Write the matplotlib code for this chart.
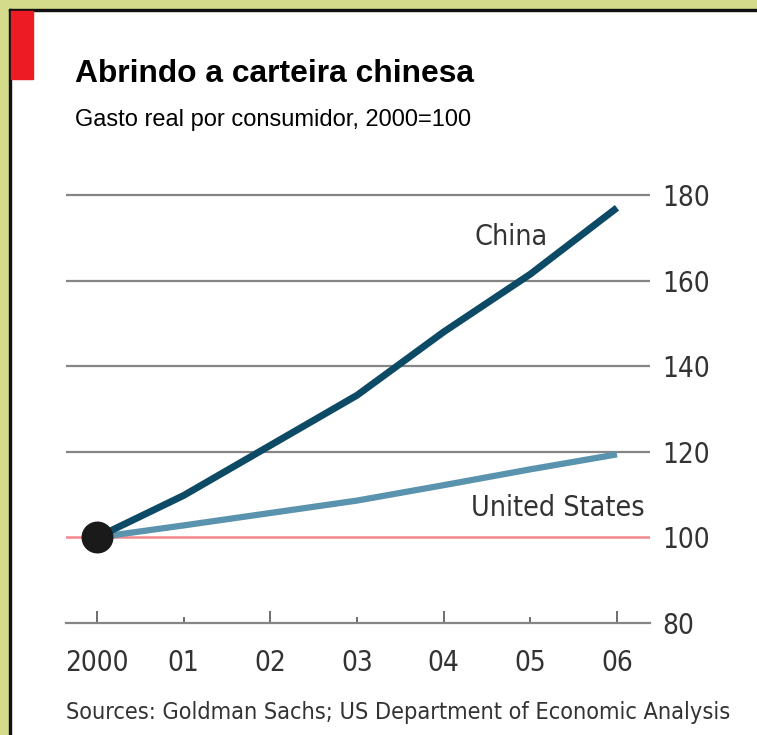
import matplotlib.pyplot as plt
from matplotlib.patches import Rectangle

# data (2000 = 100)
years = [2000, 2001, 2002, 2003, 2004, 2005, 2006]
year_labels = ['2000', '01', '02', '03', '04', '05', '06']
china = [100, 109.8, 121.5, 133.2, 148.0, 161.5, 177.0]
usa = [100, 102.8, 105.7, 108.6, 112.2, 115.9, 119.4]
y_ticks = [80, 100, 120, 140, 160, 180]

W, H = 757, 735
fig = plt.figure(figsize=(W / 100, H / 100), dpi=100, facecolor='white')

# frame: olive border, black edge, red tag
olive = '#d4dc8b'
fig.patches.append(Rectangle((0, 1 - 9 / H), 1, 9 / H, transform=fig.transFigure, color=olive, zorder=0))
fig.patches.append(Rectangle((0, 0), 9 / W, 1, transform=fig.transFigure, color=olive, zorder=0))
fig.patches.append(Rectangle((9 / W, 1 - 11 / H), 1, 2 / H, transform=fig.transFigure, color='#111111', zorder=0))
fig.patches.append(Rectangle((9 / W, 0), 2 / W, 1 - 9 / H, transform=fig.transFigure, color='#111111', zorder=0))
fig.patches.append(Rectangle((11 / W, 1 - 79 / H), 22 / W, 68 / H, transform=fig.transFigure, color='#ed1c24', zorder=0))

fig.text(75 / W, 1 - 82 / H, 'Abrindo a carteira chinesa', fontsize=22.9, fontweight='bold',
         family='Liberation Sans', color='black', va='baseline')
fig.text(75 / W, 1 - 126 / H, 'Gasto real por consumidor, 2000=100', fontsize=17,
         family='Liberation Sans', color='black', va='baseline')

cond = dict(family='DejaVu Sans', stretch='condensed')
fig.text(66 / W, 1 - 719 / H, 'Sources: Goldman Sachs; US Department of Economic Analysis',
         fontsize=16.8, color='#333333', va='baseline', **cond)

ax = fig.add_axes([66 / W, (H - 623) / H, (650 - 66) / W, (623 - 186.4) / H])
ax.set_xlim(1999.642, 2006.381)
ax.set_ylim(80, 182)
ax.set_facecolor('none')

for v in y_ticks[2:]:
    ax.axhline(v, color='#858585', lw=1.6, zorder=1)
ax.axhline(100, color='#f2888c', lw=1.8, zorder=1)

ax.plot(years, usa, color='#5a93ad', lw=4.5, solid_capstyle='butt', zorder=3)
ax.plot(years, china, color='#0c4a66', lw=5, solid_capstyle='butt', zorder=4)
ax.plot([years[0]], [100], 'o', color='#1a1a1a', markersize=22, zorder=5)

ax.text(2004.78, 170.2, 'China', fontsize=20.5, color='#333333', ha='center', va='center', **cond)
ax.text(2005.32, 106.9, 'United States', fontsize=20.5, color='#333333', ha='center', va='center', **cond)

for s in ['top', 'left', 'right']:
    ax.spines[s].set_visible(False)
ax.spines['bottom'].set_color('#858585')
ax.spines['bottom'].set_linewidth(1.6)

ax.yaxis.tick_right()
ax.set_yticks(y_ticks)
ax.set_yticklabels([str(v) for v in y_ticks], fontsize=20, color='#333333', **cond)
ax.tick_params(axis='y', length=0, pad=9)

ax.set_xticks(years[::2])
ax.set_xticklabels(year_labels[::2], fontsize=20, color='#333333', **cond)
ax.set_xticks(years[1::2], minor=True)
ax.set_xticklabels(year_labels[1::2], minor=True, fontsize=20, color='#333333', **cond)
ax.tick_params(axis='x', which='major', direction='in', length=9, width=1.2, color='#555555', pad=19)
ax.tick_params(axis='x', which='minor', direction='in', length=4, width=1.2, color='#555555', pad=19)

fig.savefig('out.png', dpi=100, facecolor='white')
